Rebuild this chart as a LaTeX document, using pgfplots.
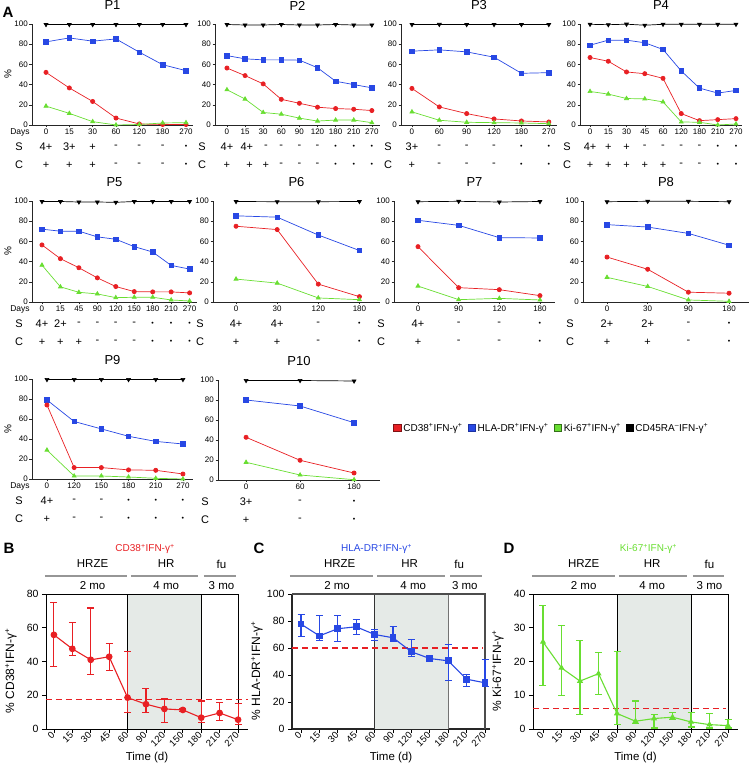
\documentclass[border=0pt]{standalone}
\usepackage{fontspec}
\setmainfont{Liberation Sans}
\usepackage{pgfplots}
\pgfplotsset{compat=1.18}
\definecolor{cred}{RGB}{232,32,36}
\definecolor{cblue}{RGB}{40,72,228}
\definecolor{cgreen}{RGB}{105,222,50}
\definecolor{cshade}{RGB}{229,234,231}
\definecolor{chead}{RGB}{150,150,150}
\newcommand{\fs}[1]{\fontsize{#1}{#1}\selectfont}
\newcommand{\supp}{\textsuperscript{+}}
\newcommand{\supm}{\textsuperscript{–}}
\newcommand{\bul}{{\fs{7}•}}
\newcommand{\SC}[3]{\node[font=\fs{11},yshift=-22pt] at (axis cs:#1,0) {#2};\node[font=\fs{11},yshift=-40pt] at (axis cs:#1,0) {#3};}
\newcommand{\SChead}{\node[font=\fs{11},xshift=-13pt,yshift=-22pt] at (axis description cs:0,0) {S};\node[font=\fs{11},xshift=-13pt,yshift=-40pt] at (axis description cs:0,0) {C};}
\newcommand{\Days}{\node[font=\fs{8.5},xshift=-12pt,yshift=-7.5pt] at (axis description cs:0,0) {Days};}
\tikzset{headl/.style={chead, line width=1.1pt}}
\pgfplotsset{
  pp/.style={scale only axis, clip=false, anchor=south west,
    axis x line*=bottom, axis y line*=left,
    axis line style={-, line width=0.5pt, black!85},
    every tick/.style={black!85, line width=0.5pt},
    tick align=outside, major tick length=2.5pt,
    ymin=0, ymax=100, ytick={0,20,40,60,80,100},
    ticklabel style={font=\fs{8}},
    /pgf/number format/assume math mode=true,
    yticklabel style={inner sep=1.5pt},
    xticklabel style={inner sep=1.5pt},
    title style={at={(axis description cs:0.5,1)}, anchor=center, yshift=12.5pt, font=\fs{13}},
    ylabel style={at={(axis description cs:0,0.5)}, anchor=center, yshift=24pt, font=\fs{10}},
  },
  sr/.style={cred, line width=0.7pt, mark=*, mark size=2.1pt},
  sb/.style={cblue, line width=0.7pt, mark=square*, mark size=2.3pt},
  sg/.style={cgreen, line width=0.7pt, mark=triangle*, mark size=2.3pt},
  sk/.style={black, line width=0.7pt, mark=triangle*, mark size=2.2pt, mark options={rotate=180}},
  pb/.style={scale only axis, clip=false, anchor=south west, height=135pt,
    axis x line*=bottom, axis y line*=left,
    axis line style={-, line width=0.8pt},
    every tick/.style={black, line width=0.8pt},
    tick align=outside, major tick length=4pt,
    ticklabel style={font=\fs{10.5}},
    /pgf/number format/assume math mode=true,
    xtick={0,...,10}, xticklabels={0,15,30,45,60,90,120,150,180,210,270},
    xticklabel style={rotate=45, anchor=east, font=\fs{9.5}, inner sep=1pt},
    xlabel={Time (d)},
    xlabel style={at={(axis description cs:0.5,0)}, anchor=center, yshift=-29pt, font=\fs{11.5}},
    ylabel style={at={(axis description cs:0,0.43)}, anchor=center, yshift=35pt, font=\fs{12}},
  },
  boxl/.style={black, line width=0.7pt, forget plot},
}
\begin{document}
\begin{tikzpicture}
\useasboundingbox (0,0) rectangle (753pt,772pt);
\node[font=\fs{15}\bfseries] at (8pt,760pt) {A};
\node[font=\fs{15}\bfseries] at (9pt,224pt) {B};
\node[font=\fs{15}\bfseries] at (259pt,224pt) {C};
\node[font=\fs{15}\bfseries] at (509pt,224pt) {D};

% ---------------- P1
\begin{axis}[pp, at={(32pt,647pt)}, width=161pt, height=101pt, xmin=-0.6, xmax=6.3,
  xtick={0,...,6}, xticklabels={0,15,30,60,120,180,270}, title={P1}, ylabel={\%}]
\addplot[sk] coordinates {(0,99.5)(1,99.5)(2,99.5)(3,99.5)(4,99.5)(5,99.5)(6,99.5)};
\addplot[sb] coordinates {(0,82.3)(1,86.2)(2,83)(3,85.2)(4,72.1)(5,59.7)(6,53.8)};
\addplot[sr] coordinates {(0,52.1)(1,36.7)(2,23.3)(3,6.9)(4,1)(5,0.5)(6,0.5)};
\addplot[sg] coordinates {(0,18.7)(1,11.5)(2,3.3)(3,0)(4,0.5)(5,2)(6,2.3)};
\Days\SChead
\SC{0}{4+}{+}\SC{1}{3+}{+}\SC{2}{+}{+}\SC{3}{-}{-}\SC{4}{-}{-}\SC{5}{-}{-}\SC{6}{\bul}{\bul}
\end{axis}

% ---------------- P2
\begin{axis}[pp, at={(215pt,647pt)}, width=165pt, height=101pt, xmin=-0.66, xmax=8.45,
  xtick={0,...,8}, xticklabels={0,15,30,60,90,120,180,210,270}, title={P2}]
\addplot[sk] coordinates {(0,99.5)(1,99)(2,99)(3,99.5)(4,99)(5,99)(6,99.5)(7,99)(8,99)};
\addplot[sb] coordinates {(0,68.7)(1,65.5)(2,64.5)(3,64.5)(4,64.2)(5,56.7)(6,43.3)(7,40)(8,36.8)};
\addplot[sr] coordinates {(0,56.4)(1,48.9)(2,40.7)(3,25.4)(4,21.5)(5,17.6)(6,16.3)(7,15.6)(8,14.3)};
\addplot[sg] coordinates {(0,34.9)(1,25.7)(2,12.4)(3,10.7)(4,6.8)(5,3.9)(6,4.9)(7,4.9)(8,2.3)};
\SChead
\SC{0}{4+}{+}\SC{1.1}{4+}{}\SC{1.25}{}{+}\SC{2.15}{-}{+}\SC{3}{-}{-}\SC{4}{-}{-}\SC{5}{-}{-}
\SC{6}{\bul}{\bul}\SC{7}{\bul}{\bul}\SC{8}{\bul}{\bul}
\end{axis}

% ---------------- P3
\begin{axis}[pp, at={(401pt,647pt)}, width=156pt, height=101pt, xmin=-0.4, xmax=5.3,
  xtick={0,...,5}, xticklabels={0,60,90,120,180,270}, title={P3}]
\addplot[sk] coordinates {(0,99.5)(1,99.6)(2,99.5)(3,99.5)(4,99.5)(5,99.5)};
\addplot[sb] coordinates {(0,73.1)(1,74.4)(2,72.4)(3,67.1)(4,51.2)(5,51.8)};
\addplot[sr] coordinates {(0,36.2)(1,17.9)(2,11.3)(3,6)(4,4)(5,3)};
\addplot[sg] coordinates {(0,13)(1,4.7)(2,2.7)(3,2.3)(4,2)(5,1.3)};
\SChead
\SC{0}{3+}{+}\SC{1}{-}{-}\SC{2}{-}{-}\SC{3}{-}{-}\SC{4}{\bul}{\bul}\SC{5}{\bul}{\bul}
\end{axis}

% ---------------- P4
\begin{axis}[pp, at={(580pt,647pt)}, width=162pt, height=101pt, xmin=-0.55, xmax=8.33,
  xtick={0,...,8}, xticklabels={0,15,30,45,60,120,180,210,270}, title={P4}]
\addplot[sk] coordinates {(0,99.7)(1,99.3)(2,99.8)(3,98.8)(4,99.7)(5,99.7)(6,99.7)(7,99.7)(8,99.7)};
\addplot[sb] coordinates {(0,79)(1,84)(2,84)(3,81.4)(4,74.8)(5,53.5)(6,36.5)(7,31.6)(8,34.2)};
\addplot[sr] coordinates {(0,66.8)(1,63.1)(2,52.5)(3,50.8)(4,46.2)(5,11.3)(6,4.3)(7,5.3)(8,6.3)};
\addplot[sg] coordinates {(0,33.2)(1,30.6)(2,26.2)(3,25.9)(4,22.9)(5,3)(6,2.7)(7,0)(8,1)};
\SChead
\SC{0}{4+}{+}\SC{1}{+}{+}\SC{2}{+}{+}\SC{3}{-}{+}\SC{4}{-}{+}\SC{5}{-}{-}\SC{6}{-}{-}
\SC{7}{\bul}{\bul}\SC{8}{\bul}{\bul}
\end{axis}

% ---------------- P5
\begin{axis}[pp, at={(32pt,470pt)}, width=165pt, height=101pt, xmin=-0.54, xmax=8.4,
  xtick={0,...,8}, xticklabels={0,15,45,90,120,150,180,210,270}, title={P5}, ylabel={\%}]
\addplot[sk] coordinates {(0,99.5)(1,99.5)(2,99)(3,99)(4,98.7)(5,99.5)(6,99.5)(7,99.5)(8,99.5)};
\addplot[sb] coordinates {(0,72.1)(1,70.1)(2,70.1)(3,64.5)(4,62.1)(5,54.8)(6,49.5)(7,36.2)(8,32.6)};
\addplot[sr] coordinates {(0,56.5)(1,42.9)(2,33.9)(3,23.9)(4,15.3)(5,10.3)(6,10)(7,10)(8,9)};
\addplot[sg] coordinates {(0,36.5)(1,15)(2,9.6)(3,8)(4,4.3)(5,4.7)(6,4.7)(7,2)(8,1)};
\Days\SChead
\SC{0}{4+}{+}\SC{1}{2+}{+}\SC{2}{-}{+}\SC{3}{-}{-}\SC{4}{-}{-}\SC{5}{-}{-}
\SC{6}{\bul}{\bul}\SC{7}{\bul}{\bul}\SC{8}{\bul}{\bul}
\end{axis}

% ---------------- P6
\begin{axis}[pp, at={(213pt,470pt)}, width=167pt, height=101pt, xmin=-0.56, xmax=3.5,
  xtick={0,...,3}, xticklabels={0,30,120,180}, title={P6}]
\addplot[sk] coordinates {(0,99.5)(1,99.3)(2,99.3)(3,99.5)};
\addplot[sb] coordinates {(0,85.3)(1,84)(2,66.3)(3,51)};
\addplot[sr] coordinates {(0,75)(1,71.7)(2,17.7)(3,5.3)};
\addplot[sg] coordinates {(0,22.7)(1,18.7)(2,4)(3,2.3)};
\SChead
\SC{0}{4+}{+}\SC{1}{4+}{+}\SC{2}{-}{-}\SC{3}{\bul}{\bul}
\end{axis}

% ---------------- P7
\begin{axis}[pp, at={(394pt,470pt)}, width=161pt, height=101pt, xmin=-0.59, xmax=3.37,
  xtick={0,...,3}, xticklabels={0,90,120,180}, title={P7}]
\addplot[sk] coordinates {(0,99.3)(1,99.7)(2,99)(3,99.5)};
\addplot[sb] coordinates {(0,80.9)(1,75.9)(2,63.7)(3,63.4)};
\addplot[sr] coordinates {(0,54.8)(1,14.2)(2,12.2)(3,6.3)};
\addplot[sg] coordinates {(0,15.8)(1,2.3)(2,3.6)(3,2)};
\SChead
\SC{0}{4+}{+}\SC{1}{-}{-}\SC{2}{-}{-}\SC{3}{\bul}{\bul}
\end{axis}

% ---------------- P8
\begin{axis}[pp, at={(583pt,470pt)}, width=166pt, height=101pt, xmin=-0.59, xmax=3.49,
  xtick={0,...,3}, xticklabels={0,30,90,180}, title={P8}]
\addplot[sk] coordinates {(0,99.3)(1,99.7)(2,99.7)(3,99.3)};
\addplot[sb] coordinates {(0,76.6)(1,74.2)(2,67.9)(3,56.2)};
\addplot[sr] coordinates {(0,44.5)(1,32.4)(2,9.7)(3,8.7)};
\addplot[sg] coordinates {(0,24.4)(1,15.4)(2,2)(3,0.7)};
\SChead
\SC{0}{2+}{+}\SC{1}{2+}{+}\SC{2}{-}{-}\SC{3}{\bul}{\bul}
\end{axis}

% ---------------- P9
\begin{axis}[pp, at={(32pt,293pt)}, width=161pt, height=100pt, xmin=-0.55, xmax=5.37,
  xtick={0,...,5}, xticklabels={0,120,150,180,210,270}, title={P9}, ylabel={\%}]
\addplot[sk] coordinates {(0,99.5)(1,99.5)(2,99.5)(3,99.5)(4,99.5)(5,99.5)};
\addplot[sb] coordinates {(0,79)(1,57.5)(2,50.1)(3,42.7)(4,37.6)(5,35)};
\addplot[sr] coordinates {(0,74)(1,11.4)(2,11.4)(3,9.1)(4,8.7)(5,5)};
\addplot[sg] coordinates {(0,28.9)(1,3)(2,3)(3,2)(4,0.7)(5,0)};
\Days\SChead
\SC{0}{4+}{+}\SC{1}{-}{-}\SC{2}{-}{-}\SC{3}{\bul}{\bul}\SC{4}{\bul}{\bul}\SC{5}{\bul}{\bul}
\end{axis}

% ---------------- P10 (+ legend)
\begin{axis}[pp, at={(218pt,292pt)}, width=162pt, height=100pt, xmin=-0.52, xmax=2.48,
  xtick={0,...,2}, xticklabels={0,60,180}, title={P10},
  legend style={at={(axis description cs:1.08,0.52)}, anchor=west, draw=none, fill=none,
    font=\fs{10}, inner sep=0pt, /tikz/every even column/.append style={column sep=3pt}},
  legend columns=4, legend cell align=left]
\addlegendimage{legend image code/.code={\filldraw[fill=cred,draw=cred!55!black,line width=0.6pt] (0pt,-3.8pt) rectangle (7.6pt,3.8pt);}}
\addlegendentry{CD38\supp IFN-γ\supp}
\addlegendimage{legend image code/.code={\filldraw[fill=cblue,draw=cblue!70!black,line width=0.6pt] (0pt,-3.8pt) rectangle (7.6pt,3.8pt);}}
\addlegendentry{HLA-DR\supp IFN-γ\supp}
\addlegendimage{legend image code/.code={\filldraw[fill=cgreen,draw=cgreen!50!black,line width=0.6pt] (0pt,-3.8pt) rectangle (7.6pt,3.8pt);}}
\addlegendentry{Ki-67\supp IFN-γ\supp}
\addlegendimage{legend image code/.code={\filldraw[fill=black,draw=black,line width=0.6pt] (0pt,-3.4pt) rectangle (7pt,3.4pt);}}
\addlegendentry{CD45RA\supm IFN-γ\supp}
\addplot[sk, forget plot] coordinates {(0,99.5)(1,99.5)(2,99)};
\addplot[sb, forget plot] coordinates {(0,80)(1,74)(2,57.3)};
\addplot[sr, forget plot] coordinates {(0,42.7)(1,19.7)(2,7)};
\addplot[sg, forget plot] coordinates {(0,17.7)(1,5)(2,0.3)};
\SChead
\SC{0}{3+}{+}\SC{1}{-}{-}\SC{2}{\bul}{\bul}
\end{axis}

% ---------------- B
\begin{axis}[pb, at={(46pt,43pt)}, width=202pt, xmin=-0.43, xmax=10.54,
  ymin=0, ymax=80, ytick={0,20,40,60,80}, ylabel={\% CD38\supp IFN-γ\supp}]
\addplot[fill=cshade, draw=none, forget plot] coordinates {(4,80)(8,80)} \closedcycle;
\addplot[boxl] coordinates {(4,0)(4,80)};
\addplot[boxl] coordinates {(8,0)(8,80)};
\addplot[boxl] coordinates {(-0.43,80)(10,80)(10,0)};
\addplot[cred, line width=1.4pt, dash pattern=on 6pt off 4pt, forget plot] coordinates {(-0.43,17.5)(10.54,17.5)};
\addplot[cred, line width=1.1pt, mark=*, mark size=2.8pt,
  error bars/.cd, y dir=both, y explicit, error bar style={line width=1.1pt},
  error mark options={rotate=90, mark size=3.5pt, line width=1.1pt}]
 coordinates {
 (0,55.8) += (0,19.2) -= (0,19.0)
 (1,47.5) += (0,15.5) -= (0,3.9)
 (2,41.0) += (0,30.7) -= (0,8.5)
 (3,42.8) += (0,8.1) -= (0,8.3)
 (4,18.6) += (0,27.5) -= (0,8.7)
 (5,14.7) += (0,9.5) -= (0,4.8)
 (6,11.9) += (0,5.9) -= (0,8.3)
 (7,11.3) += (0,0.6) -= (0,0.8)
 (8,6.7) += (0,9.9) -= (0,3.1)
 (9,9.5) += (0,6.3) -= (0,4.2)
 (10,5.5) += (0,9.4) -= (0,3.1)
 };
\node[font=\fs{10}, text=cred, yshift=45pt] at (axis cs:4.95,80) {CD38\supp IFN-γ\supp};
\node[font=\fs{11.5}, yshift=30pt] at (axis cs:2.1,80) {HRZE};
\node[font=\fs{11.5}, yshift=30pt] at (axis cs:6.1,80) {HR};
\node[font=\fs{11.5}, yshift=30pt] at (axis cs:9.1,80) {fu};
\draw[headl] ([yshift=18pt]axis cs:-0.49,80) -- ([yshift=18pt]axis cs:3.97,80);
\draw[headl] ([yshift=18pt]axis cs:4.18,80) -- ([yshift=18pt]axis cs:7.83,80);
\draw[headl] ([yshift=18pt]axis cs:8.15,80) -- ([yshift=18pt]axis cs:9.9,80);
\node[font=\fs{11.5}, yshift=8.5pt] at (axis cs:2.1,80) {2 mo};
\node[font=\fs{11.5}, yshift=8.5pt] at (axis cs:6.1,80) {4 mo};
\node[font=\fs{11.5}, yshift=8.5pt] at (axis cs:9.1,80) {3 mo};
\end{axis}

% ---------------- C
\begin{axis}[pb, at={(292pt,43pt)}, width=198pt, xmin=-0.49, xmax=10.27,
  ymin=0, ymax=100, ytick={0,20,40,60,80,100}, ylabel={\% HLA-DR\supp IFN-γ\supp},
  axis line style={-, line width=1.2pt, black!85}]
\addplot[fill=cshade, draw=none, forget plot] coordinates {(4,100)(8,100)} \closedcycle;
\addplot[boxl, line width=1.3pt, black!80] coordinates {(4,0)(4,100)};
\addplot[boxl, line width=1.3pt, black!55] coordinates {(8,0)(8,100)};
\addplot[boxl, line width=1.2pt, black!70] coordinates {(-0.49,100)(10,100)(10,0)};
\addplot[cred, line width=1.4pt, dash pattern=on 6pt off 4pt, forget plot] coordinates {(-0.49,60)(9.9,60)};
\addplot[cblue, line width=1.1pt, mark=square*, mark size=2.8pt,
  error bars/.cd, y dir=both, y explicit, error bar style={line width=1.1pt},
  error mark options={rotate=90, mark size=3.5pt, line width=1.1pt}]
 coordinates {
 (0,77.7) += (0,7.0) -= (0,8.9)
 (1,69.0) += (0,15.2) -= (0,3.2)
 (2,74.3) += (0,9.9) -= (0,9.7)
 (3,75.7) += (0,5.3) -= (0,5.7)
 (4,70.0) += (0,4.0) -= (0,4.2)
 (5,67.6) += (0,8.4) -= (0,3.0)
 (6,57.2) += (0,9.4) -= (0,3.5)
 (7,52.2) += (0,1.8) -= (0,2.0)
 (8,50.5) += (0,12.4) -= (0,14.4)
 (9,36.9) += (0,3.2) -= (0,5.7)
 (10,34.2) += (0,17.3) -= (0,3.0)
 };
\node[font=\fs{10}, text=cblue, yshift=45pt] at (axis cs:4.1,100) {HLA-DR\supp IFN-γ\supp};
\node[font=\fs{11.5}, yshift=30pt] at (axis cs:2.1,100) {HRZE};
\node[font=\fs{11.5}, yshift=30pt] at (axis cs:5.9,100) {HR};
\node[font=\fs{11.5}, yshift=30pt] at (axis cs:8.6,100) {fu};
\draw[headl] ([yshift=18pt]axis cs:-0.6,100) -- ([yshift=18pt]axis cs:3.9,100);
\draw[headl] ([yshift=18pt]axis cs:4.13,100) -- ([yshift=18pt]axis cs:7.83,100);
\draw[headl] ([yshift=18pt]axis cs:8.1,100) -- ([yshift=18pt]axis cs:9.84,100);
\node[font=\fs{11.5}, yshift=8.5pt] at (axis cs:1.96,100) {2 mo};
\node[font=\fs{11.5}, yshift=8.5pt] at (axis cs:6.1,100) {4 mo};
\node[font=\fs{11.5}, yshift=8.5pt] at (axis cs:8.9,100) {3 mo};
\end{axis}

% ---------------- D
\begin{axis}[pb, at={(533pt,43pt)}, width=205pt, xmin=-0.54, xmax=10.54,
  ymin=0, ymax=40, ytick={0,10,20,30,40}, ylabel={\% Ki-67\supp IFN-γ\supp}]
\addplot[fill=cshade, draw=none, forget plot] coordinates {(4,40)(8,40)} \closedcycle;
\addplot[boxl] coordinates {(4,0)(4,40)};
\addplot[boxl] coordinates {(8,0)(8,40)};
\addplot[boxl] coordinates {(-0.54,40)(10,40)(10,0)};
\addplot[cred, line width=1.4pt, dash pattern=on 6pt off 4pt, forget plot] coordinates {(-0.54,6)(9.9,6)};
\addplot[cgreen, line width=1.1pt, mark=triangle*, mark size=2.5pt,
  error bars/.cd, y dir=both, y explicit, error bar style={line width=1.1pt},
  error mark options={rotate=90, mark size=3.5pt, line width=1.1pt}]
 coordinates {
 (0,25.8) += (0,10.9) -= (0,12.8)
 (1,18.1) += (0,12.6) -= (0,8.3)
 (2,14.2) += (0,11.9) -= (0,9.9)
 (3,16.4) += (0,6.4) -= (0,6.1)
 (4,4.6) += (0,18.3) -= (0,3.3)
 (5,2.3) += (0,6.0) -= (0,0.6)
 (6,3.1) += (0,1.2) -= (0,2.8)
 (7,3.5) += (0,1.4) -= (0,0.6)
 (8,2.1) += (0,2.7) -= (0,1.5)
 (9,1.3) += (0,3.3) -= (0,1.0)
 (10,1.0) += (0,1.7) -= (0,0.7)
 };
\node[font=\fs{10}, text=cgreen, yshift=45pt] at (axis cs:5.7,40) {Ki-67\supp IFN-γ\supp};
\node[font=\fs{11.5}, yshift=30pt] at (axis cs:2.2,40) {HRZE};
\node[font=\fs{11.5}, yshift=30pt] at (axis cs:5.9,40) {HR};
\node[font=\fs{11.5}, yshift=30pt] at (axis cs:9.0,40) {fu};
\draw[headl] ([yshift=18pt]axis cs:-0.6,40) -- ([yshift=18pt]axis cs:3.9,40);
\draw[headl] ([yshift=18pt]axis cs:4.1,40) -- ([yshift=18pt]axis cs:7.8,40);
\draw[headl] ([yshift=18pt]axis cs:8.1,40) -- ([yshift=18pt]axis cs:9.8,40);
\node[font=\fs{11.5}, yshift=8.5pt] at (axis cs:2.2,40) {2 mo};
\node[font=\fs{11.5}, yshift=8.5pt] at (axis cs:5.9,40) {4 mo};
\node[font=\fs{11.5}, yshift=8.5pt] at (axis cs:9.0,40) {3 mo};
\end{axis}
\end{tikzpicture}
\end{document}
